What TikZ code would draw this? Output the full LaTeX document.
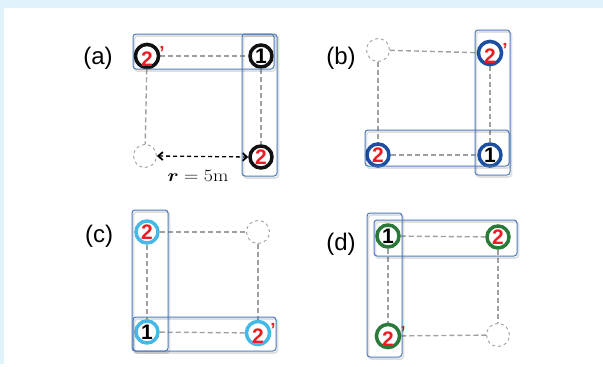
\documentclass[tikz,border=0pt]{standalone}
\usepackage[no-math]{fontspec}
\usepackage{bm}
\setmainfont{Liberation Sans}
\usetikzlibrary{arrows.meta,backgrounds}
\definecolor{bgblue}{HTML}{E0F3FA}
\definecolor{boxblue}{HTML}{4A78B8}
\definecolor{ringa}{HTML}{111111}
\definecolor{ringb}{HTML}{1D4F9E}
\definecolor{ringc}{HTML}{45B8E6}
\definecolor{ringd}{HTML}{2A7A3A}
\definecolor{numred}{HTML}{EE1C24}
\definecolor{dashgray}{HTML}{A0A0A0}
\tikzset{
  ring/.style={circle, draw=#1, line width=3.5pt, minimum size=22pt, inner sep=0pt,
    font=\fontsize{21}{21}\selectfont\bfseries},
  emptyc/.style={circle, draw=dashgray, dashed, line width=0.9pt, minimum size=23pt, inner sep=0pt},
  dline/.style={draw=dashgray, line width=1.4pt, dash pattern=on 5pt off 3pt},
  grp/.style={draw=boxblue, line width=1pt, rounded corners=3pt},
  grpshadow/.style={draw=black, opacity=0.12, line width=1.8pt, rounded corners=3pt},
  panel/.style={font=\fontsize{24}{24}\selectfont}
}
\newcommand{\one}{\textcolor{black}{1}}
\newcommand{\two}{\textcolor{numred}{2}}
\newcommand{\twop}{\textcolor{numred}{2}\rlap{\kern6.5pt\raisebox{7pt}{\textcolor{numred}{\fontsize{19}{19}\selectfont\bfseries ’}}}}
\begin{document}
\begin{tikzpicture}[x=1pt,y=-1pt]
\useasboundingbox (0,0) rectangle (603,367);
\fill[bgblue] (0,0) rectangle (603,8);
\fill[bgblue] (0,0) rectangle (3.5,364);

% ---------- (a)
\node[panel] (la) at (98,58) {(a)};
\node[ring=ringa] (a2p) at (147,56) {\twop};
\node[ring=ringa] (a1) at (261,56) {\one};
\node[ring=ringa] (a2) at (261,157) {\two};
\node[emptyc] (ae) at (145,156) {};
\begin{scope}[on background layer]
\draw[dline] (a2p) -- (a1);
\draw[dline] (a2p) -- (ae);
\draw[dline] (a1) -- (a2);
\end{scope}
\draw[line width=1.3pt, dash pattern=on 4pt off 3pt, {Straight Barb[length=4.5pt,width=8pt,line width=1.8pt]}-{Straight Barb[length=4.5pt,width=8pt,line width=1.8pt]}] (ae.east) -- (a2.west);
\node[font=\fontsize{17}{17}\selectfont] (ar) at (198,176) {\scalebox{1.15}[1]{$\bm{r}=5\mathrm{m}$}};
\draw[grpshadow] (134.5,36) rectangle (275.5,71);
\draw[grpshadow] (243.5,36) rectangle (278.5,178);
\draw[grp] (133,34) rectangle (274,69);
\draw[grp] (242,34) rectangle (277,176);

% ---------- (b)
\node[panel] (lb) at (341,58) {(b)};
\node[emptyc] (be) at (378,50) {};
\node[ring=ringb] (b2p) at (490,53) {\twop};
\node[ring=ringb] (b2) at (378,155) {\two};
\node[ring=ringb] (b1) at (490,155) {\one};
\begin{scope}[on background layer]
\draw[dline] (be) -- (b2p);
\draw[dline] (be) -- (b2);
\draw[dline] (b2p) -- (b1);
\draw[dline] (b2) -- (b1);
\end{scope}
\draw[grpshadow] (476.5,32) rectangle (511.5,177);
\draw[grpshadow] (366.5,132) rectangle (510.5,168);
\draw[grp] (475,30) rectangle (510,175);
\draw[grp] (365,130) rectangle (509,166);

% ---------- (c)
\node[panel] (lc) at (99,236) {(c)};
\node[ring=ringc] (c2) at (147,232) {\two};
\node[emptyc] (ce) at (258,232) {};
\node[ring=ringc] (c1) at (147,332) {\one};
\node[ring=ringc] (c2p) at (258,333) {\twop};
\begin{scope}[on background layer]
\draw[dline] (c2) -- (ce);
\draw[dline] (c2) -- (c1);
\draw[dline] (ce) -- (c2p);
\draw[dline] (c1) -- (c2p);
\end{scope}
\draw[grpshadow] (133.5,212) rectangle (169.5,353);
\draw[grpshadow] (134.5,319) rectangle (277.5,353);
\draw[grp] (132,210) rectangle (168,351);
\draw[grp] (133,317) rectangle (276,351);

% ---------- (d)
\node[panel] (ld) at (341,244) {(d)};
\node[ring=ringd] (d1) at (388,236) {\one};
\node[ring=ringd] (d2) at (498,237) {\two};
\node[ring=ringd] (d2p) at (388,336) {\twop};
\node[emptyc] (de) at (498,335) {};
\begin{scope}[on background layer]
\draw[dline] (d1) -- (d2);
\draw[dline] (d1) -- (d2p);
\draw[dline] (d2) -- (de);
\draw[dline] (d2p) -- (de);
\end{scope}
\draw[grpshadow] (368.5,215) rectangle (403.5,359);
\draw[grpshadow] (375.5,222) rectangle (518.5,258);
\draw[grp] (367,213) rectangle (402,357);
\draw[grp] (374,220) rectangle (517,256);
\end{tikzpicture}
\end{document}
